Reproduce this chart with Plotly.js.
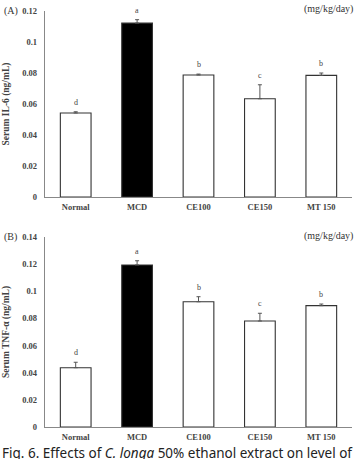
<!DOCTYPE html>
<html>
<head>
<meta charset="utf-8">
<script src="https://cdn.plot.ly/plotly-3.0.1.min.js"></script>
<style>html,body{margin:0;padding:0;background:#fff;}#chart{width:357px;height:459px;}</style>
</head>
<body>
<div id="chart"></div>
<script>
const categories = ['Normal', 'MCD', 'CE100', 'CE150', 'MT 150'];
const il6Values = [0.0542, 0.1122, 0.0787, 0.0634, 0.0785];
const il6Errors = [0.0008, 0.0022, 0.0006, 0.0090, 0.0015];
const tnfValues = [0.0437, 0.1194, 0.0923, 0.0781, 0.0894];
const tnfErrors = [0.0040, 0.0031, 0.0037, 0.0057, 0.0012];
const letters = ['d', 'a', 'b', 'c', 'b'];
const barColors = ['#ffffff', '#000000', '#ffffff', '#ffffff', '#ffffff'];

const serif = 'Liberation Serif, DejaVu Serif, serif';

function barTrace(vals, errs, xa, ya) {
  return {
    type: 'bar', x: categories, y: vals, xaxis: xa, yaxis: ya,
    marker: {color: barColors, line: {color: '#333', width: 1.1}},
    error_y: {type: 'data', symmetric: false, array: errs, arrayminus: errs.map(() => 0),
      visible: true, color: '#555', thickness: 1, width: 2},
    showlegend: false, hoverinfo: 'skip'
  };
}

const annotations = [];
function letterAnns(vals, errs, xa, ya) {
  categories.forEach((c, i) => {
    annotations.push({
      x: c, y: vals[i] + errs[i], xref: xa, yref: ya, text: letters[i],
      showarrow: false, yanchor: 'bottom', yshift: 3,
      font: {family: serif, size: 8, color: '#444'}
    });
  });
}
letterAnns(il6Values, il6Errors, 'x', 'y');
letterAnns(tnfValues, tnfErrors, 'x2', 'y2');

annotations.push(
  {x: 0.005, y: 11, xref: 'paper', yref: 'paper', text: '(A)', showarrow: false, xanchor: 'left', yanchor: 'middle', font: {family: serif, size: 10, color: '#333'}},
  {x: 0.995, y: 9, xref: 'paper', yref: 'paper', text: '(mg/kg/day)', showarrow: false, xanchor: 'right', yanchor: 'middle', font: {family: serif, size: 10, color: '#333'}},
  {x: 0.005, y: 237, xref: 'paper', yref: 'paper', text: '(B)', showarrow: false, xanchor: 'left', yanchor: 'middle', font: {family: serif, size: 10, color: '#333'}},
  {x: 0.995, y: 236, xref: 'paper', yref: 'paper', text: '(mg/kg/day)', showarrow: false, xanchor: 'right', yanchor: 'middle', font: {family: serif, size: 10, color: '#333'}},
  {x: 0.0, y: 452.5, xref: 'paper', yref: 'paper', text: 'Fig. 6. Effects of <i>C. longa</i> 50% ethanol extract on level of', showarrow: false, xanchor: 'left', yanchor: 'middle', font: {family: 'Noto Sans, sans-serif', size: 13.5, color: '#222'}}
);
// convert pixel y to paper fraction
annotations.forEach(a => { if (a.yref === 'paper') a.y = 1 - a.y / 459; });

const H = 459;
function dom(top, bottom) { return [1 - bottom / H, 1 - top / H]; }

const xaxisBase = {
  type: 'category', domain: [45 / 357, 352 / 357],
  showline: true, linecolor: '#888', linewidth: 1.2, ticks: '', showgrid: false, zeroline: false,
  ticklabelstandoff: 2,
  tickfont: {family: serif, size: 8.5, color: '#444', weight: 'bold'}, fixedrange: true
};
const yaxisBase = {
  showline: true, linecolor: '#888', linewidth: 1.2, ticks: '', showgrid: false, zeroline: false,
  dtick: 0.02, ticklabelstandoff: 5,
  tickfont: {family: serif, size: 8.5, color: '#444', weight: 'bold'}, fixedrange: true
};

const layout = {
  width: 357, height: 459,
  margin: {l: 0, r: 0, t: 0, b: 0},
  paper_bgcolor: '#fff', plot_bgcolor: '#fff',
  bargap: 0.5,
  xaxis: Object.assign({}, xaxisBase, {anchor: 'y'}),
  xaxis2: Object.assign({}, xaxisBase, {anchor: 'y2'}),
  yaxis: Object.assign({}, yaxisBase, {anchor: 'x', domain: dom(11, 197), range: [0, 0.12],
    title: {text: 'Serum IL-6 (ng/mL)', standoff: 10, font: {family: serif, size: 9.5, color: '#444', weight: 'bold'}}}),
  yaxis2: Object.assign({}, yaxisBase, {anchor: 'x2', domain: dom(237, 427), range: [0, 0.14],
    title: {text: 'Serum TNF-α (ng/mL)', standoff: 10, font: {family: serif, size: 9.5, color: '#444', weight: 'bold'}}}),
  annotations: annotations
};

Plotly.newPlot('chart', [barTrace(il6Values, il6Errors, 'x', 'y'), barTrace(tnfValues, tnfErrors, 'x2', 'y2')], layout, {staticPlot: true, displayModeBar: false});
</script>
</body>
</html>
